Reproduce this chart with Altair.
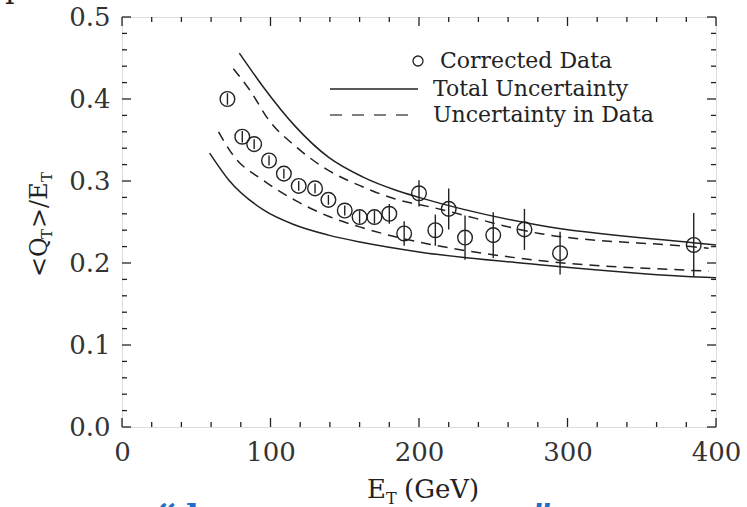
import altair as alt
import pandas as pd

# ---- data ----
et = [71, 81, 89, 99, 109, 119, 130, 139, 150, 160, 170, 180, 190, 200, 211, 220, 231, 250, 271, 295, 385]
qt = [0.400, 0.354, 0.345, 0.325, 0.309, 0.294, 0.291, 0.277, 0.264, 0.256, 0.256, 0.260, 0.236, 0.285,
      0.240, 0.266, 0.231, 0.234, 0.241, 0.212, 0.222]
err = [0.007, 0.007, 0.006, 0.006, 0.006, 0.006, 0.006, 0.006, 0.006, 0.008, 0.008, 0.012, 0.015, 0.016,
       0.019, 0.025, 0.027, 0.028, 0.025, 0.026, 0.039]

tot_hi_e = [79, 95, 117, 139, 162, 184, 200, 281, 383, 400]
tot_hi_y = [0.456, 0.415, 0.366, 0.329, 0.305, 0.289, 0.280, 0.246, 0.225, 0.222]
tot_lo_e = [59, 72, 95, 117, 139, 162, 200, 281, 393, 400]
tot_lo_y = [0.334, 0.301, 0.265, 0.246, 0.234, 0.225, 0.2135, 0.198, 0.1825, 0.182]
dat_hi_e = [75, 86, 99, 117, 139, 162, 184, 211, 281, 383, 395]
dat_hi_y = [0.437, 0.411, 0.374, 0.342, 0.313, 0.293, 0.278, 0.267, 0.236, 0.220, 0.218]
dat_lo_e = [65, 75, 95, 117, 139, 162, 184, 207, 281, 383, 395]
dat_lo_y = [0.360, 0.331, 0.301, 0.276, 0.257, 0.243, 0.232, 0.223, 0.203, 0.191, 0.190]

x_major = [0, 100, 200, 300, 400]
x_minor = [20, 40, 60, 80, 120, 140, 160, 180, 220, 240, 260, 280, 320, 340, 360, 380]
y_major = [0.0, 0.1, 0.2, 0.3, 0.4, 0.5]
y_minor = [0.02, 0.04, 0.06, 0.08, 0.12, 0.14, 0.16, 0.18, 0.22, 0.24, 0.26, 0.28,
           0.32, 0.34, 0.36, 0.38, 0.42, 0.44, 0.46, 0.48]

legend_labels = ["Corrected Data", "Total Uncertainty", "Uncertainty in Data"]

# ---- layout ----
W, H = 594, 410
SERIF = "DejaVu Serif"
INK = "#222222"

pts = pd.DataFrame({"E": et, "Q": qt, "lo": [q - e for q, e in zip(qt, err)], "hi": [q + e for q, e in zip(qt, err)]})

xs = alt.Scale(domain=[0, 400], nice=False, zero=False)
ys = alt.Scale(domain=[0, 0.5], nice=False, zero=False)

X = alt.X("E:Q", scale=xs, axis=alt.Axis(values=x_major, format="d", ticks=False, domain=False, grid=False,
                                          labelFont=SERIF, labelFontSize=26, labelColor="#333333",
                                          labelPadding=12, title=None, labelFlush=False))
Y = alt.Y("Q:Q", scale=ys, axis=alt.Axis(values=y_major, format=".1f", ticks=False, domain=False, grid=False,
                                          labelFont=SERIF, labelFontSize=26, labelColor="#333333",
                                          labelPadding=12, title=None))

points = alt.Chart(pts).mark_point(shape="circle", filled=False, size=215, stroke=INK, strokeWidth=1.4,
                                   opacity=1).encode(x=X, y=Y)
bars = alt.Chart(pts).mark_rule(color=INK, strokeWidth=1.4).encode(
    x=alt.X("E:Q", scale=xs), y=alt.Y("lo:Q", scale=ys), y2="hi:Q")


def curve(e, y, dash):
    df = pd.DataFrame({"E": e, "Q": y})
    m = alt.Chart(df).mark_line(color=INK, strokeWidth=1.5, interpolate="monotone",
                                **({"strokeDash": [10, 7]} if dash else {}))
    return m.encode(x=alt.X("E:Q", scale=xs), y=alt.Y("Q:Q", scale=ys))


curves = [curve(tot_hi_e, tot_hi_y, False), curve(tot_lo_e, tot_lo_y, False),
          curve(dat_hi_e, dat_hi_y, True), curve(dat_lo_e, dat_lo_y, True)]

# ---- inward ticks on all four sides ----
def xticks(vals, ln):
    df = pd.DataFrame({"E": vals})
    b = alt.Chart(df).mark_rule(color=INK, strokeWidth=1.3).encode(
        x=alt.X("E:Q", scale=xs), y=alt.value(H), y2=alt.value(H - ln))
    t = alt.Chart(df).mark_rule(color=INK, strokeWidth=1.3).encode(
        x=alt.X("E:Q", scale=xs), y=alt.value(0), y2=alt.value(ln))
    return [b, t]


def yticks(vals, ln):
    df = pd.DataFrame({"Q": vals})
    l = alt.Chart(df).mark_rule(color=INK, strokeWidth=1.3).encode(
        y=alt.Y("Q:Q", scale=ys), x=alt.value(0), x2=alt.value(ln))
    r = alt.Chart(df).mark_rule(color=INK, strokeWidth=1.3).encode(
        y=alt.Y("Q:Q", scale=ys), x=alt.value(W), x2=alt.value(W - ln))
    return [l, r]


ticks = xticks(x_major, 9) + xticks(x_minor, 5) + yticks(y_major, 9) + yticks(y_minor, 5)

one = pd.DataFrame({"a": [0]})


def txt(s, x, y, size, **kw):
    return alt.Chart(one).mark_text(text=s, font=kw.pop("font", SERIF), fontSize=size,
                                    color=kw.pop("color", INK), **kw).encode(
        x=alt.value(x), y=alt.value(y))


# ---- legend (inside plot, top right) ----
LX_SYM0, LX_SYM1, LX_TXT = 208, 296, 311
leg = [
    alt.Chart(one).mark_point(shape="circle", filled=False, size=100, stroke=INK, strokeWidth=1.3,
                              opacity=1).encode(x=alt.value(296), y=alt.value(44)),
    txt(legend_labels[0], 318, 44, 22, align="left", baseline="middle"),
    alt.Chart(one).mark_rule(color=INK, strokeWidth=1.6).encode(
        x=alt.value(LX_SYM0), x2=alt.value(LX_SYM1), y=alt.value(72)),
    txt(legend_labels[1], LX_TXT, 72, 22, align="left", baseline="middle"),
    alt.Chart(one).mark_rule(color="#555555", strokeWidth=1.6, strokeDash=[12, 10]).encode(
        x=alt.value(LX_SYM0), x2=alt.value(LX_SYM1), y=alt.value(98)),
    txt(legend_labels[2], LX_TXT, 98, 22, align="left", baseline="middle"),
]

# ---- axis titles with subscripts ----
titles = [
    # x title: E_T (GeV)
    txt("E", 245, 481, 26, align="left", baseline="alphabetic"),
    txt("T", 264, 487, 16, align="left", baseline="alphabetic"),
    txt("(GeV)", 282, 481, 26, align="left", baseline="alphabetic"),
    # y title: <Q_T>/E_T rotated
    txt("<Q", -75, 260, 24, align="left", baseline="alphabetic", angle=270),
    txt("T", -70, 222, 15, align="left", baseline="alphabetic", angle=270),
    txt(">/E", -75, 211, 24, align="left", baseline="alphabetic", angle=270),
    txt("T", -70, 165, 15, align="left", baseline="alphabetic", angle=270),
]

# ---- cropped fragments from the source page ----
BLUE = "#1f6fc8"
frags = [
    txt("p", -117, -19, 30, align="left", baseline="alphabetic"),
    txt("“", 34, 512, 36, align="left", baseline="alphabetic", color=BLUE, fontWeight="bold"),
    txt("l", 64, 512, 34, align="left", baseline="alphabetic", color=BLUE, fontWeight="bold"),
    txt("”", 410, 512, 36, align="left", baseline="alphabetic", color=BLUE, fontWeight="bold"),
]

chart = alt.layer(points, bars, *curves, *ticks, *leg, *titles, *frags).properties(
    width=W, height=H,
    padding={"left": 122, "top": 17, "right": 31, "bottom": 80},
    autosize=alt.AutoSizeParams(type="none"),
).configure_view(stroke=INK, strokeWidth=1.8).configure(background="white")

chart.save("out.html", embed_options={"renderer": "svg", "actions": False})
